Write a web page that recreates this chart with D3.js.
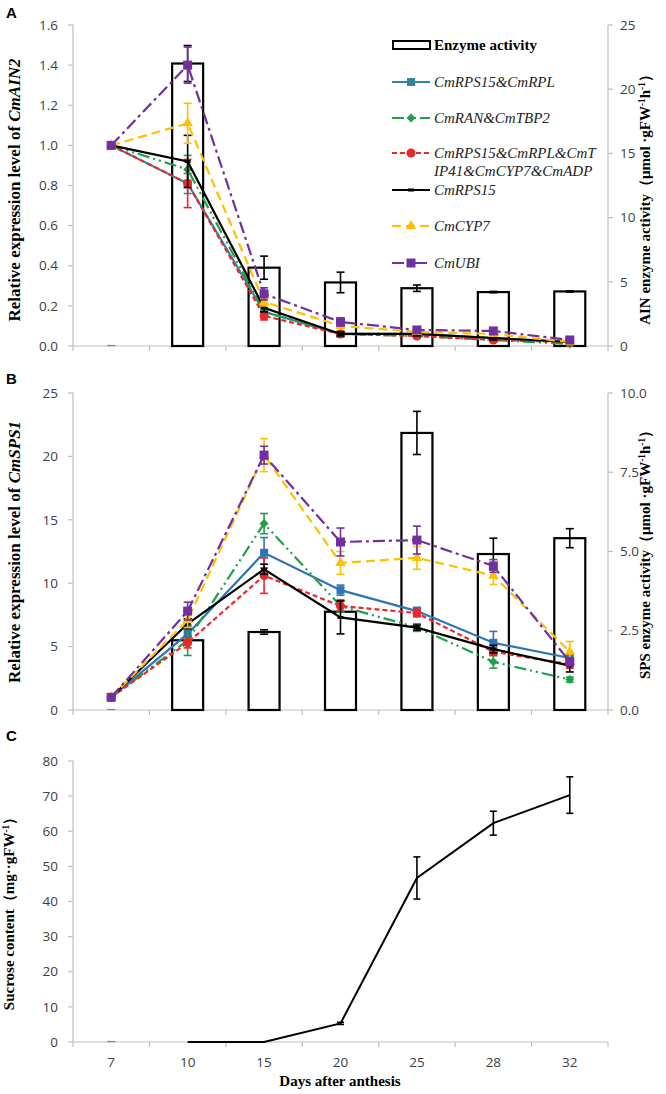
<!DOCTYPE html>
<html><head><meta charset="utf-8">
<script src="https://cdn.jsdelivr.net/npm/d3@7"></script>
<style>body{margin:0;background:#fff}svg{display:block}</style>
</head><body>
<svg id="c" width="666" height="1094"></svg>
<script>
// ---------- DATA ----------
const days = ["7","10","15","20","25","28","32"];
const seriesNames = ["CmRPS15&CmRPL","CmRAN&CmTBP2","CmRPS15&CmRPL&CmTIP41&CmCYP7&CmADP","CmRPS15","CmCYP7","CmUBI"];
// Panel A
const ainActivity    = [0, 22.0, 6.1, 4.95, 4.5, 4.2, 4.25];
const ainActivityErr = [0, 1.4, 0.9, 0.8, 0.25, 0.05, 0.05];
const ainRPS15RPL    = [1.0, 0.81, 0.17, 0.06, 0.06, 0.04, 0.02];
const ainRPS15RPLErr = [0, 0.05, 0.02, 0.01, 0.01, 0.01, 0.01];
const ainRANTBP2     = [1.0, 0.88, 0.17, 0.06, 0.05, 0.03, 0.01];
const ainRANTBP2Err  = [0, 0.07, 0.02, 0.01, 0.01, 0.01, 0.01];
const ainMulti       = [1.0, 0.81, 0.15, 0.06, 0.05, 0.03, 0.02];
const ainMultiErr    = [0, 0.12, 0.02, 0.01, 0.01, 0.01, 0.01];
const ainRPS15       = [1.0, 0.92, 0.19, 0.06, 0.06, 0.04, 0.02];
const ainRPS15Err    = [0, 0.13, 0.02, 0.01, 0.01, 0.01, 0.01];
const ainCYP7        = [1.0, 1.11, 0.22, 0.10, 0.07, 0.06, 0.02];
const ainCYP7Err     = [0, 0.10, 0.02, 0.01, 0.01, 0.01, 0.01];
const ainUBI         = [1.0, 1.40, 0.26, 0.12, 0.08, 0.075, 0.03];
const ainUBIErr      = [0, 0.09, 0.03, 0.02, 0.01, 0.01, 0.01];
// Panel B
const spsActivity    = [0, 2.2, 2.46, 3.1, 8.74, 4.92, 5.42];
const spsActivityErr = [0, 0, 0.07, 0, 0.68, 0.5, 0.3];
const spsRPS15RPL    = [1.0, 6.0, 12.4, 9.45, 7.8, 5.3, 4.1];
const spsRPS15RPLErr = [0, 0.6, 1.2, 0.4, 0.3, 0.9, 0.3];
const spsRANTBP2     = [1.0, 5.5, 14.7, 8.2, 6.5, 3.8, 2.4];
const spsRANTBP2Err  = [0, 1.2, 0.8, 0.5, 0.3, 0.5, 0.2];
const spsMulti       = [1.0, 5.3, 10.6, 8.2, 7.65, 4.6, 3.6];
const spsMultiErr    = [0, 0.4, 1.4, 0.4, 0.3, 0.3, 0.3];
const spsRPS15       = [1.0, 6.8, 11.1, 7.3, 6.5, 4.8, 3.5];
const spsRPS15Err    = [0, 0.4, 0.4, 1.3, 0.2, 0.3, 0.5];
const spsCYP7        = [1.0, 7.1, 20.1, 11.6, 12.0, 10.6, 4.6];
const spsCYP7Err     = [0, 0.6, 1.3, 0.9, 0.9, 0.7, 0.8];
const spsUBI         = [1.0, 7.8, 20.1, 13.25, 13.4, 11.36, 3.8];
const spsUBIErr      = [0, 0.7, 0.7, 1.1, 1.1, 0.5, 0.3];
// Panel C
const sucrose        = [null, 0, 0, 5.3, 46.7, 62.3, 70.3];
const sucroseErr     = [0, 0, 0, 0.3, 6.0, 3.4, 5.2];
// Tick labels
const ticksALeft  = [0,0.2,0.4,0.6,0.8,1.0,1.2,1.4,1.6];
const ticksARight = [0,5,10,15,20,25];
const ticksBLeft  = [0,5,10,15,20,25];
const ticksBRight = [0,2.5,5.0,7.5,10.0];
const ticksCLeft  = [0,10,20,30,40,50,60,70,80];

// ---------- STYLES ----------
const styles = [
  {color:"#31859c", dash:null, marker:"square", size:8},
  {color:"#1fa04a", dash:"12,4,2,4,2,4", marker:"diamond", size:8},
  {color:"#e8282a", dash:"5,3", marker:"circle", size:9},
  {color:"#000000", dash:null, marker:"dash", size:6},
  {color:"#ffc000", dash:"9,5", marker:"triangle", size:9},
  {color:"#7030a0", dash:"12,4,3,4", marker:"square", size:9}
];
const stylesB = styles.map((s,i)=> i===0 ? Object.assign({}, s, {color:"#2e75b6"}) : s);

const svg = d3.select("#c");
const x = d3.scaleBand().domain(days).range([73,608]).padding(0);
const cx = d => x(d) + x.bandwidth()/2;
const sans = "'Open Sans', sans-serif";
const serif = "'Liberation Serif','Times New Roman',serif";

function drawMarker(g, type, px, py, size, color){
  if(type==="square"){
    g.append("rect").attr("x",px-size/2).attr("y",py-size/2).attr("width",size).attr("height",size).attr("fill",color);
  } else if(type==="circle"){
    g.append("circle").attr("cx",px).attr("cy",py).attr("r",size/2).attr("fill",color);
  } else if(type==="diamond"){
    g.append("path").attr("d",d3.symbol().type(d3.symbolDiamond2).size(size*size*0.8)()).attr("transform",`translate(${px},${py})`).attr("fill",color);
  } else if(type==="triangle"){
    g.append("path").attr("d",d3.symbol().type(d3.symbolTriangle).size(size*size*0.6)()).attr("transform",`translate(${px},${py})`).attr("fill",color);
  } else if(type==="dash"){
    g.append("rect").attr("x",px-size/2).attr("y",py-1.5).attr("width",size).attr("height",3).attr("fill",color);
  }
}

function errBar(g, px, y, v, e, color, w){
  if(!e) return;
  g.append("line").attr("x1",px).attr("x2",px).attr("y1",y(v-e)).attr("y2",y(v+e)).attr("stroke",color).attr("stroke-width",1.6);
  [v-e, v+e].forEach(t=>g.append("line").attr("x1",px-w/2).attr("x2",px+w/2).attr("y1",y(t)).attr("y2",y(t)).attr("stroke",color).attr("stroke-width",1.6));
}

function xAxis(y0, labels){
  const g = svg.append("g").attr("transform",`translate(0,${y0})`);
  g.append("line").attr("x1",73).attr("x2",608).attr("y1",0).attr("y2",0).attr("stroke","#bfbfbf").attr("stroke-width",1.2);
  const bounds = days.map(d=>x(d)).concat([608]);
  bounds.forEach(b=>g.append("line").attr("x1",b).attr("x2",b).attr("y1",0).attr("y2",5).attr("stroke","#bfbfbf").attr("stroke-width",1.2));
  if(labels){
    days.forEach(d=>g.append("text").attr("x",cx(d)).attr("y",25).attr("text-anchor","middle").attr("font-family",sans).attr("font-size",13.5).attr("fill","#404040").text(d));
  }
}

function yAxisLeft(y, ticks, fmt){
  const r = y.range();
  svg.append("line").attr("x1",73).attr("x2",73).attr("y1",r[0]).attr("y2",r[1]).attr("stroke","#bfbfbf").attr("stroke-width",1.2);
  ticks.forEach(t=>{
    svg.append("line").attr("x1",68).attr("x2",73).attr("y1",y(t)).attr("y2",y(t)).attr("stroke","#bfbfbf").attr("stroke-width",1.2);
    svg.append("text").attr("x",58).attr("y",y(t)).attr("dy","0.35em").attr("text-anchor","end").attr("font-family",sans).attr("font-size",13.5).attr("fill","#404040").text(fmt(t));
  });
}
function yAxisRight(y, ticks, fmt){
  const r = y.range();
  svg.append("line").attr("x1",608).attr("x2",608).attr("y1",r[0]).attr("y2",r[1]).attr("stroke","#bfbfbf").attr("stroke-width",1.2);
  ticks.forEach(t=>{
    svg.append("line").attr("x1",608).attr("x2",613).attr("y1",y(t)).attr("y2",y(t)).attr("stroke","#bfbfbf").attr("stroke-width",1.2);
    svg.append("text").attr("x",620).attr("y",y(t)).attr("dy","0.35em").attr("text-anchor","start").attr("font-family",sans).attr("font-size",13.5).attr("fill","#404040").text(fmt(t));
  });
}

function bars(y, vals, errs){
  const g = svg.append("g");
  const bw = 31;
  days.forEach((d,i)=>{
    const v = vals[i];
    if(v===0){
      g.append("line").attr("x1",cx(d)-4).attr("x2",cx(d)+4).attr("y1",y(0)-0.5).attr("y2",y(0)-0.5).attr("stroke","#888").attr("stroke-width",1.2);
      return;
    }
    g.append("rect").attr("x",cx(d)-bw/2).attr("y",y(v)).attr("width",bw).attr("height",y(0)-y(v)).attr("fill","#fff").attr("stroke","#000").attr("stroke-width",2.2);
    errBar(g, cx(d), y, v, errs[i], "#000", 8);
  });
}

function lines(y, dataList, errList, sty){
  dataList.forEach((vals,k)=>{
    const s = sty[k];
    const g = svg.append("g");
    const line = d3.line().defined((v)=>v!==null).x((v,i)=>cx(days[i])).y(v=>y(v));
    g.append("path").attr("d",line(vals)).attr("fill","none").attr("stroke",s.color).attr("stroke-width",2.2).attr("stroke-dasharray",s.dash);
    vals.forEach((v,i)=>{ errBar(g, cx(days[i]), y, v, errList[k][i], s.color, 8); });
    vals.forEach((v,i)=>{ drawMarker(g, s.marker, cx(days[i]), y(v), s.size, s.color); });
  });
}

function vTitle(xp, yp, parts, size){
  const t = svg.append("text").attr("transform",`translate(${xp},${yp}) rotate(-90)`).attr("text-anchor","middle")
    .attr("font-family",serif).attr("font-weight","bold").attr("font-size",size).attr("fill","#000");
  parts.forEach(p=>{
    const ts = t.append("tspan").text(p.t);
    if(p.i) ts.attr("font-style","italic");
    if(p.sup) ts.attr("font-size",size*0.62).attr("baseline-shift","super");
  });
}

// ---------- PANEL A ----------
const yAL = d3.scaleLinear().domain([0,1.6]).range([346,25]);
const yAR = d3.scaleLinear().domain([0,25]).range([346,25]);
xAxis(346,false);
yAxisLeft(yAL, ticksALeft, d3.format(".1f"));
yAxisRight(yAR, ticksARight, d3.format("d"));
bars(yAR, ainActivity, ainActivityErr);
lines(yAL, [ainRPS15RPL, ainRANTBP2, ainMulti, ainRPS15, ainCYP7, ainUBI],
  [ainRPS15RPLErr, ainRANTBP2Err, ainMultiErr, ainRPS15Err, ainCYP7Err, ainUBIErr], styles);

// Legend
(function(){
  const g = svg.append("g");
  g.append("rect").attr("x",393).attr("y",41).attr("width",37).attr("height",8).attr("fill","#fff").attr("stroke","#000").attr("stroke-width",2);
  g.append("text").attr("x",434).attr("y",50).attr("font-family",serif).attr("font-weight","bold").attr("font-size",15).text("Enzyme activity");
  const rows = [82,118,153,190,226,263];
  const labels = [["CmRPS15&CmRPL"],["CmRAN&CmTBP2"],["CmRPS15&CmRPL&CmT","IP41&CmCYP7&CmADP"],["CmRPS15"],["CmCYP7"],["CmUBI"]];
  rows.forEach((ry,k)=>{
    const s = styles[k];
    g.append("line").attr("x1",392).attr("x2",430).attr("y1",ry).attr("y2",ry).attr("stroke",s.color).attr("stroke-width",2.2).attr("stroke-dasharray",s.dash);
    drawMarker(g, s.marker, 411, ry, s.size, s.color);
    labels[k].forEach((l,j)=>{
      g.append("text").attr("x",434).attr("y",ry+5+j*18).attr("font-family",serif).attr("font-style","italic").attr("font-size",15).attr("fill","#222").text(l);
    });
  });
})();

vTitle(20, 190, [{t:"Relative expression level of "},{t:"CmAIN2",i:true}], 17);
vTitle(650, 196, [{t:"AIN enzyme activity（μmol ·gFW"},{t:"-1",sup:true},{t:"h"},{t:"-1",sup:true},{t:"）"}], 15);

// ---------- PANEL B ----------
const yBL = d3.scaleLinear().domain([0,25]).range([710,393]);
const yBR = d3.scaleLinear().domain([0,10]).range([710,393]);
xAxis(710,false);
yAxisLeft(yBL, ticksBLeft, d3.format("d"));
yAxisRight(yBR, ticksBRight, d3.format(".1f"));
bars(yBR, spsActivity, spsActivityErr);
lines(yBL, [spsRPS15RPL, spsRANTBP2, spsMulti, spsRPS15, spsCYP7, spsUBI],
  [spsRPS15RPLErr, spsRANTBP2Err, spsMultiErr, spsRPS15Err, spsCYP7Err, spsUBIErr], stylesB);
vTitle(20, 552, [{t:"Relative expression level of "},{t:"CmSPS1",i:true}], 17);
vTitle(650, 551, [{t:"SPS enzyme activity（μmol ·gFW"},{t:"-1",sup:true},{t:"h"},{t:"-1",sup:true},{t:"）"}], 15);

// ---------- PANEL C ----------
const yC = d3.scaleLinear().domain([0,80]).range([1042,761]);
xAxis(1042,true);
yAxisLeft(yC, ticksCLeft, d3.format("d"));
(function(){
  const g = svg.append("g");
  const line = d3.line().defined(v=>v!==null).x((v,i)=>cx(days[i])).y(v=>yC(v));
  g.append("line").attr("x1",cx(days[0])-4).attr("x2",cx(days[0])+4).attr("y1",yC(0)-0.5).attr("y2",yC(0)-0.5).attr("stroke","#888").attr("stroke-width",1.2);
  g.append("path").attr("d",line(sucrose)).attr("fill","none").attr("stroke","#000").attr("stroke-width",2);
  sucrose.forEach((v,i)=>{ if(v!==null) errBar(g, cx(days[i]), yC, v, sucroseErr[i], "#000", 7); });
})();
vTitle(14, 910, [{t:"Sucrose content（mg··gFW"},{t:"-1",sup:true},{t:"）"}], 15);
svg.append("text").attr("x",340).attr("y",1086).attr("text-anchor","middle").attr("font-family",serif).attr("font-weight","bold").attr("font-size",15).text("Days after anthesis");

// Panel letters
[["A",12],["B",378],["C",735]].forEach(([l,yy])=>svg.append("text").attr("x",6).attr("y",yy+6).attr("font-family","Arial, 'Liberation Sans', sans-serif").attr("font-weight","bold").attr("font-size",15).text(l));
</script>
</body></html>
